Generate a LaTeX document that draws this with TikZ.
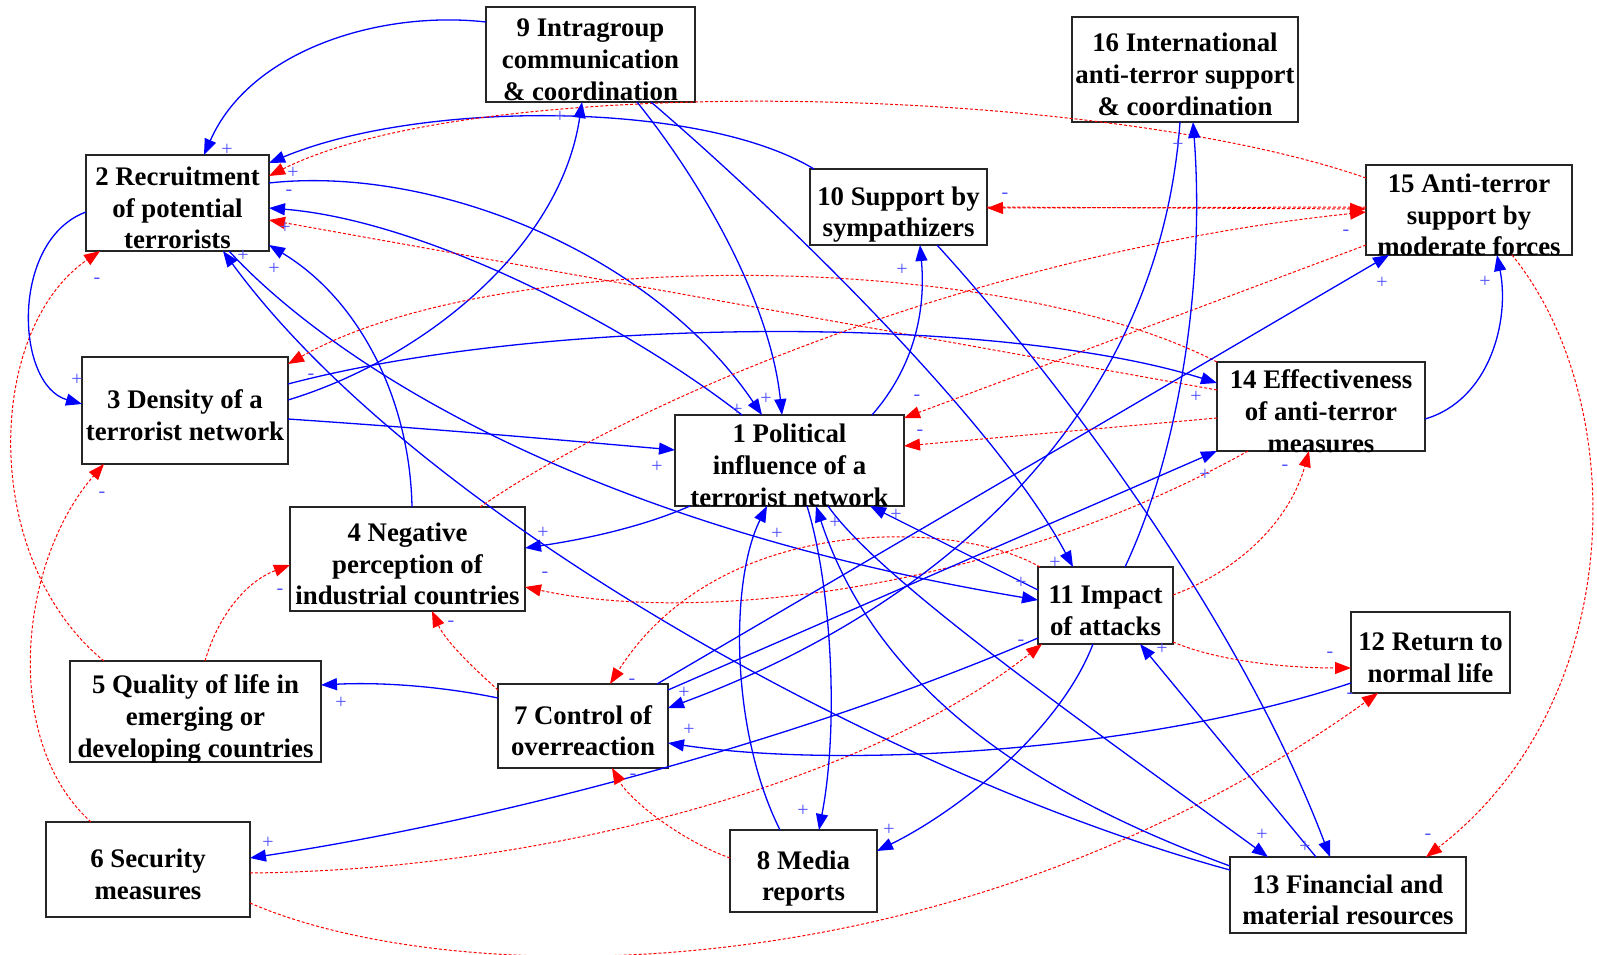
\documentclass[tikz,border=0pt]{standalone}
\usepackage{fontspec}
\setmainfont{Liberation Serif}
\usetikzlibrary{arrows.meta}
\definecolor{eblue}{RGB}{0,0,255}
\definecolor{ered}{RGB}{255,0,0}
\definecolor{lblue}{RGB}{80,80,255}
\newcommand\topstrut{\rule{0pt}{17pt}}
\newcommand\botstrut{\rule[-3pt]{0pt}{3pt}}
\begin{document}
\begin{tikzpicture}[x=0.5pt,y=-0.5pt,
  box/.style={draw=black!85, line width=0.75pt, inner xsep=0pt, inner ysep=-4pt, align=center,
    font=\bfseries\fontsize{13.4}{15.8}\selectfont},
  plink/.style={color=eblue, line width=0.65pt, -{Triangle[length=8pt,width=6pt]}},
  nlink/.style={color=ered, line width=0.5pt, dash pattern=on 1.5pt off 1pt, -{Triangle[length=8pt,width=6pt]}},
  lab/.style={text=lblue, inner sep=0pt, font=\fontsize{10}{10}\selectfont}]
\useasboundingbox (0,0) rectangle (1597,954);
% nodes
\node[box, minimum width=104.5pt, minimum height=47.5pt] (n9) at (590.5,54.5) {\topstrut 9 Intragroup\\communication\\\& coordination\botstrut};
\node[box, minimum width=91.5pt, minimum height=48pt] (n2) at (177.5,203) {\topstrut 2 Recruitment\\of potential\\terrorists\botstrut};
\node[box, minimum width=113pt, minimum height=52.5pt] (n16) at (1185,69.5) {\topstrut 16 International\\anti-terror support\\\& coordination\botstrut};
\node[box, minimum width=88.5pt, minimum height=38pt] (n10) at (898.5,207) {\topstrut 10 Support by\\sympathizers\botstrut};
\node[box, minimum width=103pt, minimum height=45pt] (n15) at (1469,210) {\topstrut 15 Anti-terror\\support by\\moderate forces\botstrut};
\node[box, minimum width=103pt, minimum height=53.5pt] (n3) at (185,410.5) {\topstrut 3 Density of a\\terrorist network\botstrut};
\node[box, minimum width=104pt, minimum height=44.5pt] (n14) at (1321,406.5) {\topstrut 14 Effectiveness\\of anti-terror\\measures\botstrut};
\node[box, minimum width=114.5pt, minimum height=45.5pt] (n1) at (789.5,460.5) {\topstrut 1 Political\\influence of a\\terrorist network\botstrut};
\node[box, minimum width=117.5pt, minimum height=52pt] (n4) at (407.5,559) {\topstrut 4 Negative\\perception of\\industrial countries\botstrut};
\node[box, minimum width=67.5pt, minimum height=38.5pt] (n11) at (1105.5,605.5) {\topstrut 11 Impact\\of attacks\botstrut};
\node[box, minimum width=79.5pt, minimum height=40.5pt] (n12) at (1430.5,652.5) {\topstrut 12 Return to\\normal life\botstrut};
\node[box, minimum width=125.5pt, minimum height=50.5pt] (n5) at (195.5,711.5) {\topstrut 5 Quality of life in\\emerging or\\developing countries\botstrut};
\node[box, minimum width=85pt, minimum height=42pt] (n7) at (583,726) {\topstrut 7 Control of\\overreaction\botstrut};
\node[box, minimum width=102pt, minimum height=47.5pt] (n6) at (148,869.5) {\topstrut 6 Security\\measures\botstrut};
\node[box, minimum width=73.5pt, minimum height=41pt] (n8) at (803.5,871) {\topstrut 8 Media\\reports\botstrut};
\node[box, minimum width=118pt, minimum height=38pt] (n13) at (1348,895) {\topstrut 13 Financial and\\material resources\botstrut};
% edges
\draw[plink] ([shift={(-104.5,-32.5)}]n9.center) .. controls (380,10) and (250,50) .. ([shift={(26.5,-48)}]n2.center);
\draw[plink] ([shift={(-84.5,-38)}]n10.center) .. controls (700,100) and (420,100) .. ([shift={(91.5,-40)}]n2.center);
\draw[nlink] ([shift={(-103,-32)}]n15.center) .. controls (1100,85) and (480,70) .. ([shift={(91.5,-27)}]n2.center);
\draw[plink] ([shift={(91.5,-20)}]n2.center) .. controls (430,165) and (650,250) .. ([shift={(-27.5,-45.5)}]n1.center);
\draw[plink] ([shift={(-47.5,-45.5)}]n1.center) .. controls (620,320) and (420,220) .. ([shift={(91.5,5)}]n2.center);
\draw[nlink] ([shift={(-104,-16.5)}]n14.center) -- ([shift={(91.5,17)}]n2.center);
\draw[plink] ([shift={(4.5,-52)}]n4.center) .. controls (410,400) and (360,300) .. ([shift={(91.5,42)}]n2.center);
\draw[plink] ([shift={(-118,-25)}]n13.center) .. controls (900,780) and (420,520) .. ([shift={(45.5,48)}]n2.center);
\draw[nlink] ([shift={(-91.5,-50.5)}]n5.center) .. controls (-20,560) and (-15,330) .. ([shift={(-77.5,48)}]n2.center);
\draw[plink] ([shift={(-91.5,9)}]n2.center) .. controls (10,240) and (15,385) .. ([shift={(-103,-6.5)}]n3.center);
\draw[plink] ([shift={(51.5,48)}]n2.center) .. controls (320,350) and (560,520) .. ([shift={(-67.5,-5.5)}]n11.center);
\draw[plink] ([shift={(103,-26.5)}]n3.center) .. controls (550,315) and (1000,315) .. ([shift={(-104,-23.5)}]n14.center);
\draw[plink] ([shift={(103,-10.5)}]n3.center) .. controls (420,360) and (560,250) .. ([shift={(-8.5,47.5)}]n9.center);
\draw[plink] ([shift={(103,8.5)}]n3.center) .. controls (450,430) and (560,440) .. ([shift={(-114.5,-10.5)}]n1.center);
\draw[nlink] ([shift={(-104,-44.5)}]n14.center) .. controls (1000,250) and (500,245) .. ([shift={(103,-46.5)}]n3.center);
\draw[plink] ([shift={(-99.5,45.5)}]n1.center) .. controls (640,528) and (580,540) .. ([shift={(117.5,-11)}]n4.center);
\draw[nlink] ([shift={(-73,44.5)}]n14.center) .. controls (1000,590) and (700,625) .. ([shift={(117.5,28)}]n4.center);
\draw[nlink] ([shift={(-85,-36)}]n7.center) .. controls (470,665) and (445,640) .. ([shift={(24.5,52)}]n4.center);
\draw[nlink] ([shift={(9.5,-50.5)}]n5.center) .. controls (220,610) and (250,580) .. ([shift={(-117.5,6)}]n4.center);
\draw[nlink] ([shift={(72.5,-52)}]n4.center) .. controls (650,390) and (1000,250) .. ([shift={(-103,2)}]n15.center);
\draw[plink] ([shift={(-85,-28)}]n7.center) .. controls (440,686) and (380,682) .. ([shift={(125.5,-26.5)}]n5.center);
\draw[nlink] ([shift={(-57,-47.5)}]n6.center) .. controls (0,740) and (20,560) .. ([shift={(-81,53.5)}]n3.center);
\draw[plink] ([shift={(-67.5,32.5)}]n11.center) .. controls (800,740) and (500,820) .. ([shift={(102,-11.5)}]n6.center);
\draw[nlink] ([shift={(102,3.5)}]n6.center) .. controls (550,870) and (870,780) .. ([shift={(-63.5,38.5)}]n11.center);
\draw[nlink] ([shift={(102,33.5)}]n6.center) .. controls (450,990) and (950,1000) .. ([shift={(-52.5,40.5)}]n12.center);
\draw[nlink] ([shift={(-65.5,-38.5)}]n11.center) .. controls (960,520) and (720,510) .. ([shift={(27,-42)}]n7.center);
\draw[nlink] ([shift={(-73.5,-13)}]n8.center) .. controls (680,840) and (630,800) .. ([shift={(29,42)}]n7.center);
\draw[plink] ([shift={(74,-42)}]n7.center) -- ([shift={(-80,45)}]n15.center);
\draw[plink] ([shift={(85,-36)}]n7.center) -- ([shift={(-104,44.5)}]n14.center);
\draw[plink] ([shift={(-5,52.5)}]n16.center) .. controls (1160,400) and (960,600) .. ([shift={(85,-18)}]n7.center);
\draw[plink] ([shift={(-79.5,30.5)}]n12.center) .. controls (1150,750) and (850,770) .. ([shift={(85,17)}]n7.center);
\draw[plink] ([shift={(17.5,45.5)}]n1.center) .. controls (830,580) and (840,720) .. ([shift={(15.5,-41)}]n8.center);
\draw[plink] ([shift={(-23.5,-41)}]n8.center) .. controls (730,730) and (730,580) .. ([shift={(-22.5,45.5)}]n1.center);
\draw[plink] ([shift={(-12.5,38.5)}]n11.center) .. controls (1060,730) and (960,810) .. ([shift={(73.5,-20)}]n8.center);
\draw[plink] ([shift={(46.5,47.5)}]n9.center) .. controls (700,180) and (770,300) .. ([shift={(-7.5,-45.5)}]n1.center);
\draw[plink] ([shift={(60.5,47.5)}]n9.center) .. controls (800,230) and (1000,430) .. ([shift={(-32.5,-38.5)}]n11.center);
\draw[plink] ([shift={(-118,-29)}]n13.center) .. controls (1050,800) and (880,700) .. ([shift={(26.5,45.5)}]n1.center);
\draw[plink] ([shift={(38.5,45.5)}]n1.center) .. controls (880,580) and (1080,720) .. ([shift={(-80,-38)}]n13.center);
\draw[plink] ([shift={(38.5,38)}]n10.center) .. controls (1060,380) and (1240,620) .. ([shift={(-18,-38)}]n13.center);
\draw[plink] ([shift={(-32,-38)}]n13.center) -- ([shift={(34.5,38.5)}]n11.center);
\draw[plink] ([shift={(-67.5,-15.5)}]n11.center) -- ([shift={(80.5,45.5)}]n1.center);
\draw[plink] ([shift={(82.5,-45.5)}]n1.center) .. controls (920,360) and (925,300) .. ([shift={(21.5,38)}]n10.center);
\draw[nlink] ([shift={(88.5,0)}]n10.center) -- ([shift={(-103,-1)}]n15.center);
\draw[nlink] ([shift={(-103,-3)}]n15.center) -- ([shift={(88.5,1)}]n10.center);
\draw[nlink] ([shift={(-103,35)}]n15.center) -- ([shift={(114.5,-42.5)}]n1.center);
\draw[nlink] ([shift={(-104,11.5)}]n14.center) -- ([shift={(114.5,-14.5)}]n1.center);
\draw[nlink] ([shift={(67.5,-10.5)}]n11.center) .. controls (1240,570) and (1290,520) .. ([shift={(-12,44.5)}]n14.center);
\draw[nlink] ([shift={(67.5,36.5)}]n11.center) .. controls (1220,662) and (1290,668) .. ([shift={(-79.5,15.5)}]n12.center);
\draw[nlink] ([shift={(43,45)}]n15.center) .. controls (1630,400) and (1630,700) .. ([shift={(78,-38)}]n13.center);
\draw[plink] ([shift={(104,12.5)}]n14.center) .. controls (1490,400) and (1510,320) .. ([shift={(28,45)}]n15.center);
\draw[plink] ([shift={(19.5,-38.5)}]n11.center) .. controls (1180,450) and (1205,280) .. ([shift={(8,52.5)}]n16.center);
% polarity labels
\node[lab] (l1) at (227,150) {+};
\node[lab] (l2) at (293,173) {+};
\node[lab] (l3) at (289,193) {-};
\node[lab] (l4) at (285,228) {+};
\node[lab] (l5) at (243,256) {+};
\node[lab] (l6) at (274,269) {+};
\node[lab] (l7) at (97,281) {-};
\node[lab] (l8) at (77,380) {+};
\node[lab] (l9) at (311,377) {-};
\node[lab] (l10) at (102,495) {-};
\node[lab] (l11) at (543,533) {+};
\node[lab] (l12) at (545,575) {-};
\node[lab] (l13) at (451,624) {-};
\node[lab] (l14) at (280,592) {-};
\node[lab] (l15) at (341,703) {+};
\node[lab] (l16) at (268,843) {+};
\node[lab] (l17) at (632,682) {-};
\node[lab] (l18) at (684,693) {+};
\node[lab] (l19) at (689,730) {+};
\node[lab] (l20) at (633,777) {-};
\node[lab] (l21) at (803,811) {+};
\node[lab] (l22) at (889,830) {+};
\node[lab] (l23) at (560,117) {+};
\node[lab] (l24) at (902,270) {+};
\node[lab] (l25) at (1005,196) {-};
\node[lab] (l26) at (1055,563) {+};
\node[lab] (l27) at (1021,583) {+};
\node[lab] (l28) at (1021,643) {-};
\node[lab] (l29) at (1162,649) {+};
\node[lab] (l30) at (1330,655) {-};
\node[lab] (l31) at (1350,696) {-};
\node[lab] (l32) at (1262,835) {+};
\node[lab] (l33) at (1305,847) {+};
\node[lab] (l34) at (1428,837) {-};
\node[lab] (l35) at (1196,397) {+};
\node[lab] (l36) at (1205,475) {+};
\node[lab] (l37) at (1285,468) {-};
\node[lab] (l38) at (1346,233) {-};
\node[lab] (l39) at (1382,283) {+};
\node[lab] (l40) at (1485,282) {+};
\node[lab] (l41) at (1178,145) {+};
\node[lab] (l42) at (737,410) {+};
\node[lab] (l43) at (766,399) {+};
\node[lab] (l44) at (657,467) {+};
\node[lab] (l45) at (917,398) {-};
\node[lab] (l46) at (920,433) {-};
\node[lab] (l47) at (777,534) {+};
\node[lab] (l48) at (835,523) {+};
\node[lab] (l49) at (896,515) {+};
\end{tikzpicture}
\end{document}
